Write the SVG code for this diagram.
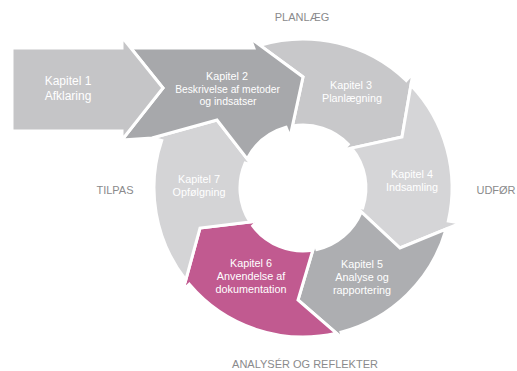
<svg xmlns="http://www.w3.org/2000/svg" width="517" height="371" viewBox="0 0 517 371">
<style>
.seg{stroke:#fff;stroke-width:3;stroke-linejoin:miter}
.t{font-family:"Liberation Sans",Arial,sans-serif;fill:#fff;text-anchor:middle;font-size:10.8px}
.lbl{font-family:"Liberation Sans",Arial,sans-serif;fill:#8a8a8c;text-anchor:middle;font-size:11px}
</style>
<rect width="517" height="371" fill="#fff"/>
<g id="k3">
<path class="seg" fill="#c8c8ca" d="M260,45.4 A149,149 0 0 1 406.2,80.5 L413,73 L402,137 L343,150 L348.3,144.2 A63,63 0 0 0 292.4,125.9 L303,77 Z"/>
<text class="t" x="351" y="89">Kapitel 3</text>
<text class="t" x="352" y="101.5">Planlægning</text>
</g>
<g id="k4">
<path class="seg" fill="#d5d5d7" d="M410.9,85.2 A149,149 0 0 1 448.3,221.1 L461,223 L400,248 L356,207 L362.7,208 A63,63 0 0 0 351.7,148.1 L402,137 Z"/>
<text class="t" x="412" y="178">Kapitel 4</text>
<text class="t" x="412" y="190.5">Indsamling</text>
</g>
<g id="k5">
<path class="seg" fill="#adaeb1" d="M446.2,229 A149,149 0 0 1 341,332.1 L343,339 L298,300 L315,243 L316.9,249.5 A63,63 0 0 0 361.3,211.9 L400,248 Z"/>
<text class="t" x="362" y="268">Kapitel 5</text>
<text class="t" x="362" y="281">Analyse og</text>
<text class="t" x="362" y="293.5">rapportering</text>
</g>
<g id="k6">
<path class="seg" fill="#c15a90" d="M336.3,333.2 A149,149 0 0 1 189.3,284.2 L183,290 L200,228 L258,221 L252.7,225.9 A63,63 0 0 0 312.8,250.2 L298,300 Z"/>
<text class="t" x="251" y="267">Kapitel 6</text>
<text class="t" x="251" y="280">Anvendelse af</text>
<text class="t" x="251" y="292.5">dokumentation</text>
</g>
<g id="k7">
<path class="seg" fill="#d4d4d6" d="M185.8,279.9 A149,149 0 0 1 161.7,140.6 L152,138 L217,120 L252,165 L245.1,163.1 A63,63 0 0 0 249.9,222 L200,228 Z"/>
<text class="t" x="199" y="183">Kapitel 7</text>
<text class="t" x="199" y="196">Opfølgning</text>
</g>
<g id="k2">
<path class="seg" fill="#a7a8ab" d="M130.8,48 L253.8,48 L250,38 L303,77 L290,137 L286.1,127.3 A63,63 0 0 0 247.2,158.8 L217,120 L152,138 L122,140 L163,88 Z"/>
<text class="t" x="227" y="80" font-size="10.5">Kapitel 2</text>
<text class="t" x="227.5" y="92.5" style="font-size:10.3px">Beskrivelse af metoder</text>
<text class="t" x="228" y="105" style="font-size:10.5px">og indsatser</text>
</g>
<g id="k1">
<path class="seg" fill="#c5c5c7" d="M12,48 L122,48 L122,37 L163,88 L122,140 L122,131 L12,131 Z"/>
<text class="t" x="68" y="85" style="font-size:12px">Kapitel 1</text>
<text class="t" x="68" y="100" style="font-size:12px">Afklaring</text>
</g>
<g id="labels">
<text class="lbl" x="302" y="21">PLANLÆG</text>
<text class="lbl" x="496" y="194">UDFØR</text>
<text class="lbl" x="115" y="194">TILPAS</text>
<text class="lbl" x="305" y="368">ANALYSÉR OG REFLEKTER</text>
</g>
</svg>
